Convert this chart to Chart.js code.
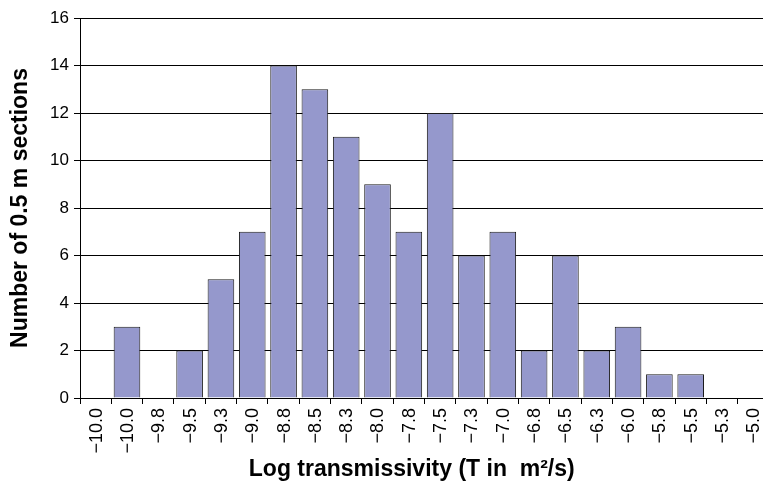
<!DOCTYPE html>
<html>
<head>
<meta charset="utf-8">
<script src="https://cdn.jsdelivr.net/npm/chart.js@4/dist/chart.umd.min.js"></script>
<style>
  html, body { margin: 0; padding: 0; background: #fff; overflow: hidden; }
  #wrap { width: 763px; height: 484px; overflow: hidden; }
</style>
</head>
<body>
<div id="wrap"><canvas id="histChart" width="775" height="484"></canvas></div>
<script>
// bins of log T (as printed on the original axis)
const binLabels = ["−10.0","−10.0","−9.8","−9.5","−9.3","−9.0","−8.8","−8.5","−8.3","−8.0","−7.8",
                   "−7.5","−7.3","−7.0","−6.8","−6.5","−6.3","−6.0","−5.8","−5.5","−5.3","−5.0"];
// number of 0.5 m sections per bin
const sectionCounts = [0,3,0,2,5,7,14,13,11,9,7,12,6,7,2,6,2,3,1,1,0,0];
const yMin = 0;
const yMax = 16;
const yStep = 2;

const fontFamily = "'Liberation Sans', Arial, sans-serif";
Chart.defaults.color = "#000";

// the x labels read bottom-to-top, which chart.js can't rotate to, so draw them here
const rotatedLabels = {
    id: "rotatedLabels",
    afterDraw(chart) {
        const xScale = chart.scales.x;
        const ctx = chart.ctx;
        ctx.save();
        ctx.font = "18px " + fontFamily;
        ctx.fillStyle = "#000";
        ctx.textAlign = "right";
        ctx.textBaseline = "middle";
        binLabels.forEach((lbl, i) => {
            const x = xScale.getPixelForTick(i) + 1;
            const y = xScale.top + 10;
            ctx.save();
            ctx.translate(x, y);
            ctx.rotate(-Math.PI / 2);
            ctx.fillText(lbl, 0, 0);
            ctx.restore();
        });
        ctx.restore();
    }
};

new Chart(document.getElementById("histChart"), {
    type: "bar",
    data: {
        labels: binLabels,
        datasets: [{
            data: sectionCounts,
            backgroundColor: "#9598CC",
            borderColor: "#1a1a1a",
            borderWidth: 1,
            barPercentage: 0.85,
            categoryPercentage: 1
        }]
    },
    options: {
        responsive: false,
        animation: false,
        layout: { padding: { top: 18, right: 6, left: 0, bottom: 0 } },
        plugins: {
            legend: { display: false },
            tooltip: { enabled: false }
        },
        scales: {
            x: {
                grid: { drawOnChartArea: false, drawTicks: true, tickLength: 6, color: "#000", offset: true },
                border: { color: "#000", width: 1 },
                ticks: { display: false },
                title: {
                    display: true,
                    text: "Log transmissivity (T in  m²/s)\u00a0\u00a0\u00a0\u00a0",
                    font: { family: fontFamily, size: 23, weight: "bold" },
                    padding: { top: 0, bottom: 1 }
                },
                afterFit: (scale) => { scale.height = 86; }
            },
            y: {
                min: yMin,
                max: yMax,
                grid: { color: "#000", lineWidth: 1, tickLength: 6 },
                border: { color: "#000", width: 1 },
                ticks: {
                    stepSize: yStep,
                    padding: 5,
                    font: { family: fontFamily, size: 17 }
                },
                title: {
                    display: true,
                    text: "Number of 0.5 m sections",
                    font: { family: fontFamily, size: 23, weight: "bold" },
                    padding: { top: 7, bottom: 0 }
                },
                afterFit: (scale) => { scale.width = 80; }
            }
        }
    },
    plugins: [rotatedLabels]
});
</script>
</body>
</html>
